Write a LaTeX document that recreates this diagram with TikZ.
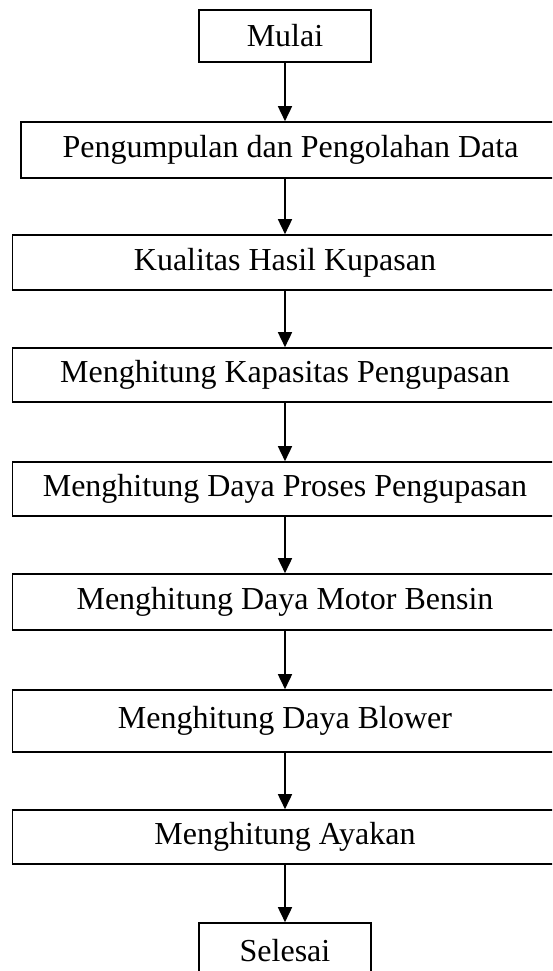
\documentclass[tikz,border=0pt]{standalone}
\usepackage{fontspec}
\setmainfont{Liberation Serif}
\usetikzlibrary{arrows.meta}

\begin{document}
\begin{tikzpicture}[x=1pt, y=-1pt,
        kotak/.style={draw, line width=1.6pt, inner sep=0pt, font=\fontsize{32}{38}\selectfont},
        panah/.style={line width=1.6pt, -{Triangle[length=15pt,width=14pt]}}]
        \useasboundingbox (0,0) rectangle (552,971);
        \clip (0,0) rectangle (552,971);

        % Kotak-kotak
        \node[kotak, minimum width=172pt, minimum height=52pt] (mulai) at (285,36) {Mulai};
        \node[kotak, minimum width=539pt, minimum height=56pt] (data) at (290.5,150) {Pengumpulan dan Pengolahan Data};
        \node[kotak, minimum width=545pt, minimum height=55pt] (kualitas) at (285,262.5) {Kualitas Hasil Kupasan};
        \node[kotak, minimum width=545pt, minimum height=54pt] (kapasitas) at (285,375) {Menghitung Kapasitas Pengupasan};
        \node[kotak, minimum width=545pt, minimum height=54pt] (proses) at (285,489) {Menghitung Daya Proses Pengupasan};
        \node[kotak, minimum width=545pt, minimum height=56pt] (motor) at (285,602) {Menghitung Daya Motor Bensin};
        \node[kotak, minimum width=545pt, minimum height=62pt] (blower) at (285,721) {Menghitung Daya Blower};
        \node[kotak, minimum width=545pt, minimum height=54pt] (ayakan) at (285,837) {Menghitung Ayakan};
        \node[kotak, minimum width=172pt, minimum height=56pt] (selesai) at (285,951) {Selesai};

        % Panah
        \draw[panah] (mulai.south) -- (mulai.south |- data.north);
        \draw[panah] (kualitas.north |- data.south) -- (kualitas.north);
        \draw[panah] (kualitas.south) -- (kapasitas.north);
        \draw[panah] (kapasitas.south) -- (proses.north);
        \draw[panah] (proses.south) -- (motor.north);
        \draw[panah] (motor.south) -- (blower.north);
        \draw[panah] (blower.south) -- (ayakan.north);
        \draw[panah] (ayakan.south) -- (selesai.north);
    \end{tikzpicture}
\end{document}
